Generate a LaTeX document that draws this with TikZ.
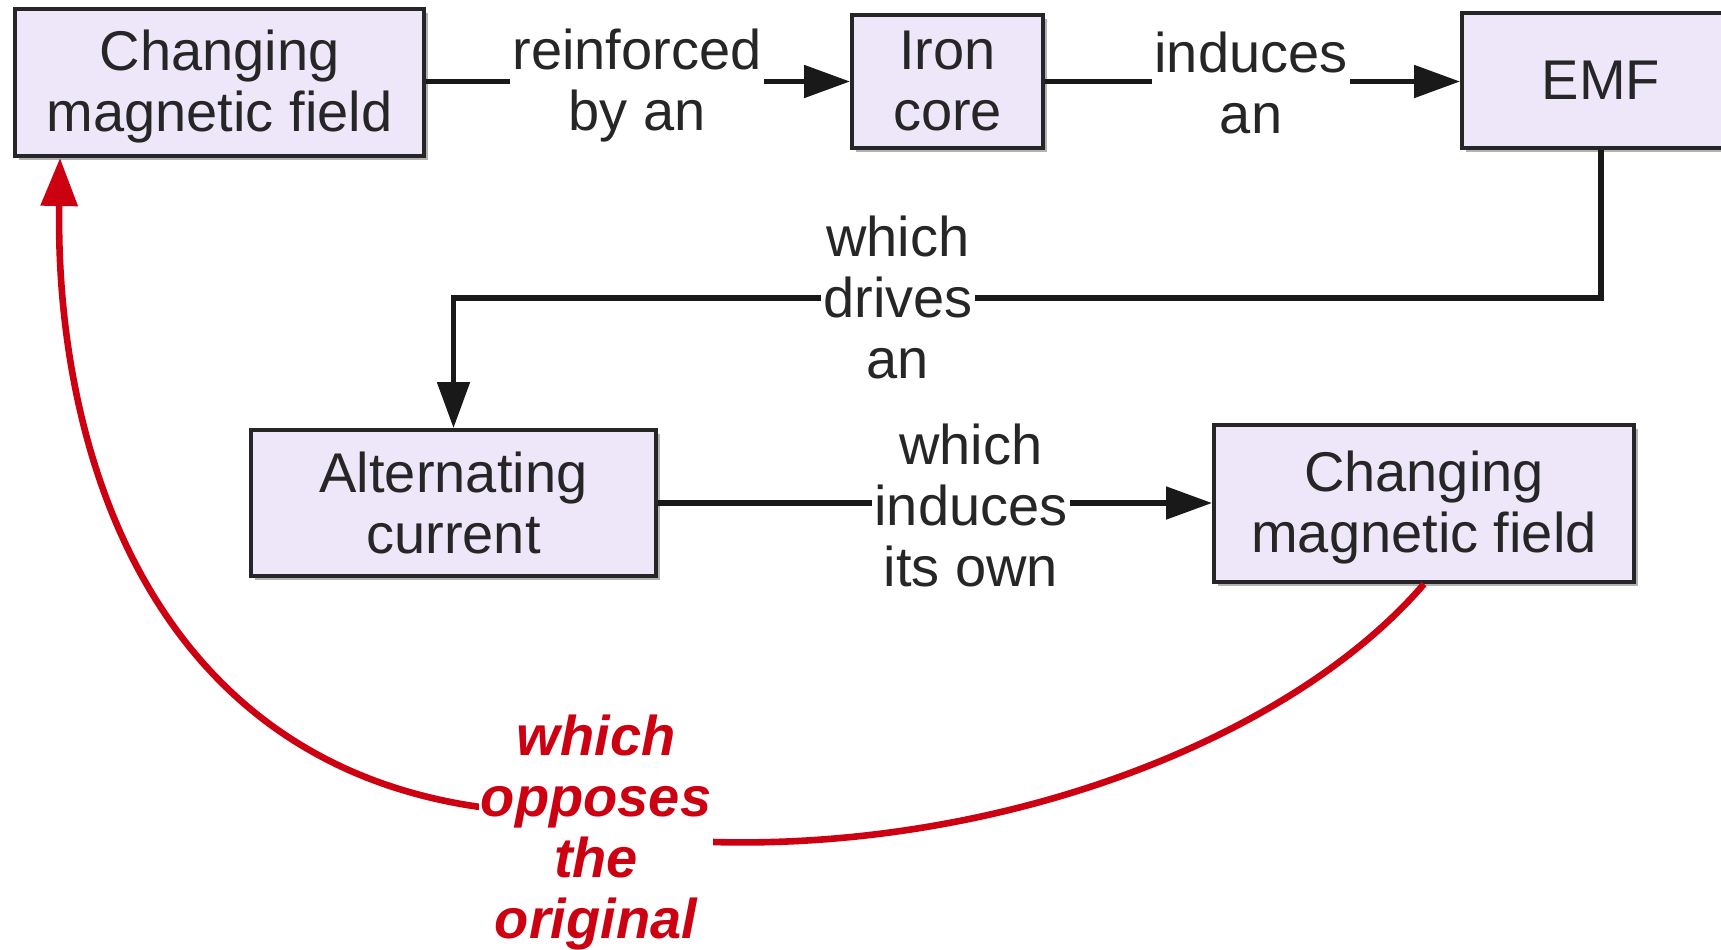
\documentclass[tikz,border=0pt]{standalone}
\usepackage{fontspec}
\setmainfont{Liberation Sans}
\usetikzlibrary{arrows.meta,shadows,calc}
\definecolor{boxfill}{RGB}{237,231,249}
\definecolor{redc}{RGB}{204,0,17}
\newcommand{\twoline}[2]{\raisebox{-3.3pt}[\height][\depth]{\begin{tabular}{@{}c@{}}#1\\#2\end{tabular}}}
\begin{document}
\begin{tikzpicture}[x=0.5pt,y=-0.5pt,
  box/.style={draw=black!85, line width=2pt, fill=boxfill, align=center, inner sep=0pt,
    font=\fontsize{28}{30.5}\selectfont, text=black!85,
    drop shadow={shadow xshift=2pt, shadow yshift=-2pt, fill=black, opacity=0.3}},
  lbl/.style={fill=white, align=center, inner sep=1pt, font=\fontsize{28}{30.5}\selectfont, text=black!85},
  conn/.style={line width=2.6pt, draw=black!90, -{Triangle[length=23pt,width=16pt]}},
  redconn/.style={line width=3.3pt, draw=redc, -{Triangle[length=24pt,width=18pt]}},
  redlbl/.style={fill=white, align=center, inner sep=1pt,
    font=\fontsize{28}{30.5}\selectfont\bfseries\itshape, text=redc}]
\useasboundingbox (0,0) rectangle (1721,949);
\fill[white] (0,0) rectangle (1721,949);

\node[box, minimum width=204.5pt, minimum height=73.5pt] (cmf1) at (219.5,82.5) {\twoline{Changing}{magnetic field}};
\node[box, minimum width=95.5pt, minimum height=66.5pt] (iron) at (947.5,81.5) {Iron\\core};
\node[box, minimum width=139pt, minimum height=67.5pt] (emf) at (1601,80.5) {EMF};
\node[box, minimum width=202.5pt, minimum height=73pt] (ac) at (453.5,503) {Alternating\\current};
\node[box, minimum width=210pt, minimum height=78.5pt] (cmf2) at (1424,503.5) {\twoline{Changing}{magnetic field}};

\draw[conn] (cmf1.east |- iron) -- (iron.west);
\draw[conn] (iron.east) -- (iron.east -| emf.west);
\draw[conn] (emf.south) -- ++(0,148) -| (ac.north);
\draw[conn] (ac.east) -- (ac.east -| cmf2.west);

\node[lbl] (l1) at (637,86) {reinforced\\by an};
\node[lbl] (l2) at (1251,83) {induces\\an};
\node[lbl] (l3) at (898,297) {which\\drives\\an};
\node[lbl] (l4) at (971,505) {which\\induces\\its own};

\draw[redconn] (cmf2.south) .. controls (1290,740) and (1000,850) .. (713,842)
  -- (480,807) .. controls (150,760) and (55,450) .. ($(cmf1.south west)+(47,0)$);
\node[redlbl] (rl) at (596,833) {which\\opposes\\the\\original};
\end{tikzpicture}
\end{document}
